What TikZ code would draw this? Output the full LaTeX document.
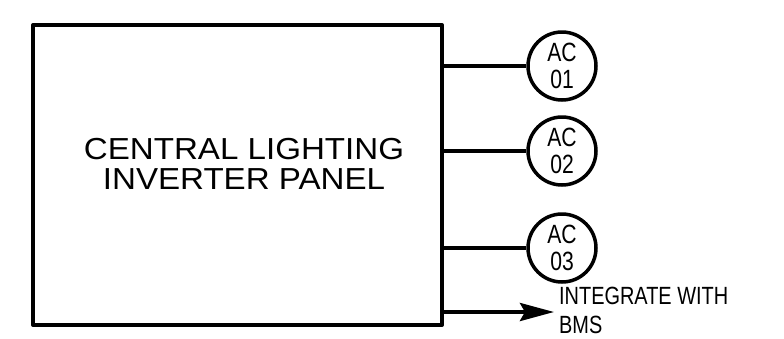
\documentclass[tikz,border=0pt]{standalone}
\usepackage{fontspec}
\setmainfont{Liberation Sans}
\newfontfamily\widefont[FakeStretch=1.09]{Liberation Sans}
\newfontfamily\narrowfont[FakeStretch=0.8]{Liberation Sans}
\usetikzlibrary{arrows.meta}
\begin{document}
\begin{tikzpicture}[x=1bp, y=-1bp, line join=round,
		panelbox/.style={draw, line width=4bp, minimum width=409bp, minimum height=300bp},
		feeder/.style={draw, circle, line width=3.5bp, minimum size=68bp, inner sep=0pt,
			align=center, font=\narrowfont\fontsize{26.5}{27}\selectfont},
		wire/.style={line width=4bp}]
			\useasboundingbox (0,0) rectangle (784,338);
			\node[panelbox] (panel) at (237.5, 175) {};
			\node[align=center, font=\widefont\fontsize{30.5}{30}\selectfont] (title)
				at (244, 164) {CENTRAL LIGHTING\\INVERTER PANEL};
			\node[feeder] (ac1) at (562, 66)  {AC\\01};
			\node[feeder] (ac2) at (562, 151) {AC\\02};
			\node[feeder] (ac3) at (562, 248) {AC\\03};
			\coordinate (bms) at (554, 312);
			\draw[wire] (ac1.west -| panel.east) -- (ac1.west);
			\draw[wire] (ac2.west -| panel.east) -- (ac2.west);
			\draw[wire] (ac3.west -| panel.east) -- (ac3.west);
			\draw[wire, -{Stealth[length=34bp, width=18bp, inset=5bp]}] (bms -| panel.east) -- (bms);
			\node[anchor=north west, inner sep=0pt, align=left,
				font=\narrowfont\fontsize{25}{29}\selectfont] (bmsnote) at (559, 287) {INTEGRATE WITH\\BMS};
		\end{tikzpicture}
\end{document}
